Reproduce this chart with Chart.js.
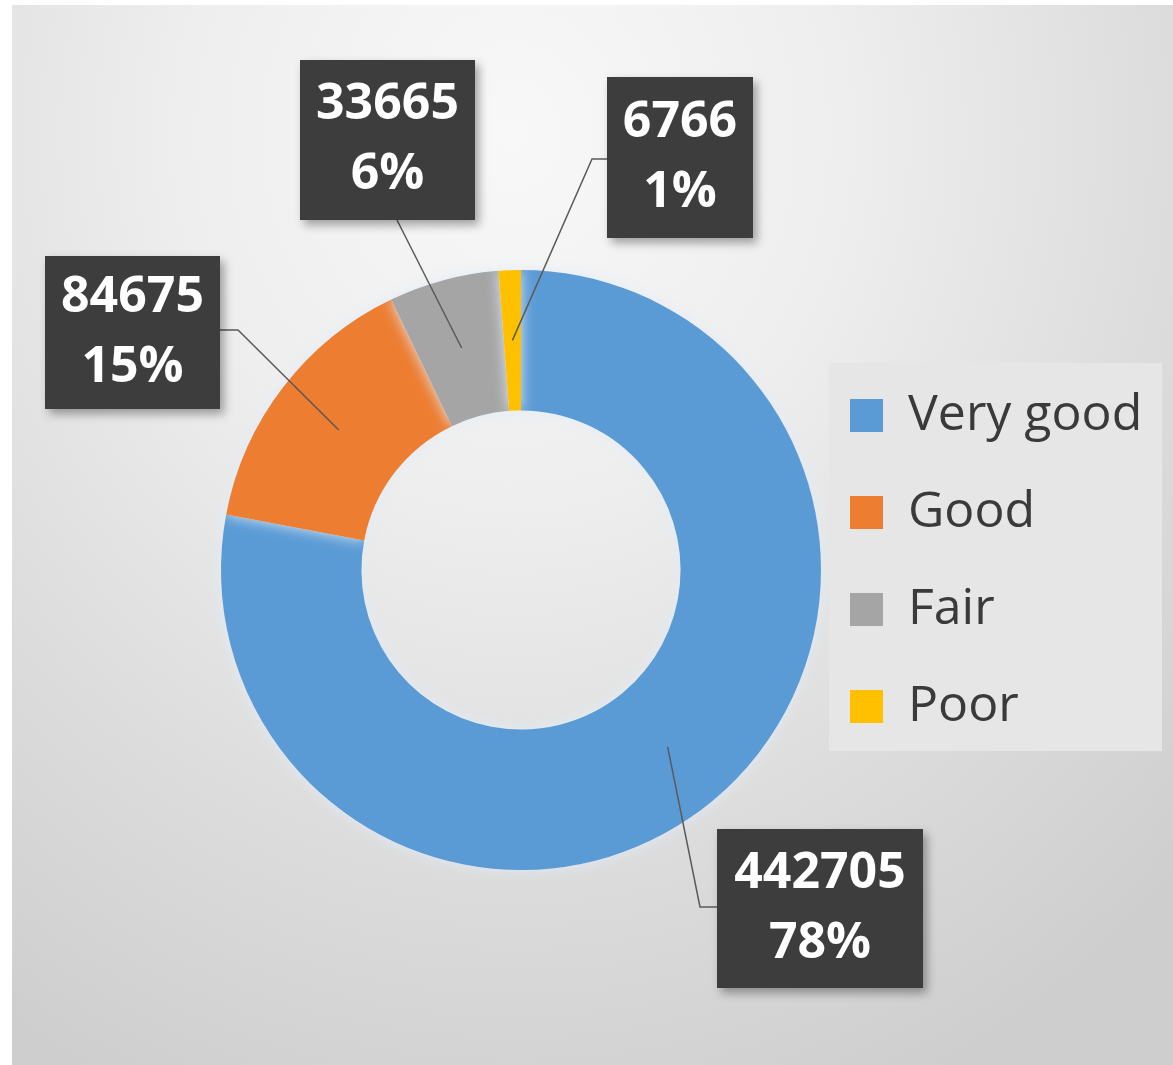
<!DOCTYPE html>
<html>
<head>
<meta charset="utf-8">
<script src="https://cdn.jsdelivr.net/npm/chart.js@4.4.0/dist/chart.umd.min.js"></script>
<style>
  html, body { margin: 0; padding: 0; background: #fff; }
  #wrap { position: relative; width: 1173px; height: 1065px; overflow: hidden; }
  #bg {
    position: absolute; left: 12px; top: 5px; right: 0; bottom: 0;
    background: radial-gradient(ellipse 950px 1050px at 500px 130px, #f8f8f8 0%, #eeeeee 35%, #dcdcdc 70%, #cecece 100%);
  }
  #ratingChart { position: absolute; left: 0; top: 0; }
</style>
</head>
<body>
<div id="wrap">
  <div id="bg"></div>
  <canvas id="ratingChart" width="1173" height="1065"></canvas>
</div>
<script>
const categories = ['Very good', 'Good', 'Fair', 'Poor'];
const counts = [442705, 84675, 33665, 6766];
const sliceColors = ['#5B9BD5', '#ED7D31', '#A5A5A5', '#FFC000'];

// callout box placement + leader line bend points (same order as categories)
const calloutBoxes = [
  { x: 717, y: 829, w: 206, h: 159, line: [[717, 907], [700, 907]] },
  { x: 45, y: 256, w: 175, h: 153, line: [[220, 330], [238, 330]] },
  { x: 300, y: 60, w: 175, h: 160, line: [[397, 220]] },
  { x: 607, y: 77, w: 146, h: 161, line: [[607, 159], [592, 159]] }
];

Chart.defaults.font.family = '"Open Sans", sans-serif';

const legendBackground = {
  id: 'legendBackground',
  afterLayout(chart) {
    // nudge the legend up a bit, and widen its clip box so the labels aren't cut
    const lg = chart.legend;
    lg.top -= 9;
    lg.bottom -= 9;
    lg.right = chart.width;
    lg.width = lg.right - lg.left;
  },
  beforeDraw(chart) {
    const ctx = chart.ctx;
    ctx.save();
    ctx.fillStyle = '#e6e6e6';
    ctx.fillRect(829, 363, 333, 388);
    ctx.restore();
  }
};

const callouts = {
  id: 'callouts',
  beforeDatasetsDraw(chart) {
    const ctx = chart.ctx;
    ctx.save();
    ctx.shadowColor = 'rgba(225, 236, 248, 0.95)';
    ctx.shadowBlur = 14;
  },
  afterDatasetsDraw(chart) {
    const ctx = chart.ctx;
    ctx.restore();

    const total = counts.reduce((a, b) => a + b, 0);
    const arcs = chart.getDatasetMeta(0).data;

    arcs.forEach((arc, i) => {
      const p = arc.getProps(['x', 'y', 'startAngle', 'endAngle', 'innerRadius', 'outerRadius'], true);
      const mid = (p.startAngle + p.endAngle) / 2;
      const r = (p.innerRadius + p.outerRadius) / 2;
      const ax = p.x + Math.cos(mid) * r;
      const ay = p.y + Math.sin(mid) * r;
      const box = calloutBoxes[i];

      // leader line
      ctx.save();
      ctx.strokeStyle = '#5a5a5a';
      ctx.lineWidth = 1.5;
      ctx.beginPath();
      ctx.moveTo(box.line[0][0], box.line[0][1]);
      box.line.slice(1).forEach(pt => ctx.lineTo(pt[0], pt[1]));
      ctx.lineTo(ax, ay);
      ctx.stroke();

      // box with soft shadow
      ctx.shadowColor = 'rgba(0, 0, 0, 0.35)';
      ctx.shadowBlur = 9;
      ctx.shadowOffsetX = 4;
      ctx.shadowOffsetY = 5;
      ctx.fillStyle = '#3d3d3d';
      ctx.fillRect(box.x, box.y, box.w, box.h);
      ctx.restore();

      // text
      const pct = Math.round(counts[i] / total * 100) + '%';
      const cx = box.x + box.w / 2;
      const cy = box.y + box.h / 2;
      ctx.save();
      ctx.fillStyle = '#ffffff';
      ctx.font = 'bold 50px "Open Sans"';
      ctx.textAlign = 'center';
      ctx.textBaseline = 'middle';
      ctx.fillText(String(counts[i]), cx, cy - 35);
      ctx.fillText(pct, cx, cy + 35);
      ctx.restore();
    });
  }
};

new Chart(document.getElementById('ratingChart'), {
  type: 'doughnut',
  data: {
    labels: categories,
    datasets: [{
      data: counts,
      backgroundColor: sliceColors,
      borderWidth: 0
    }]
  },
  options: {
    responsive: false,
    animation: false,
    cutout: 150,
    radius: 300,
    layout: {
      padding: { left: 239, right: 70, top: 270, bottom: 195 }
    },
    plugins: {
      tooltip: { enabled: false },
      legend: {
        position: 'right',
        align: 'center',
        maxWidth: 300,
        labels: {
          boxWidth: 33,
          boxHeight: 33,
          padding: 47,
          color: '#3a3a3a',
          font: { size: 50 }
        }
      }
    }
  },
  plugins: [legendBackground, callouts]
});
</script>
</body>
</html>
